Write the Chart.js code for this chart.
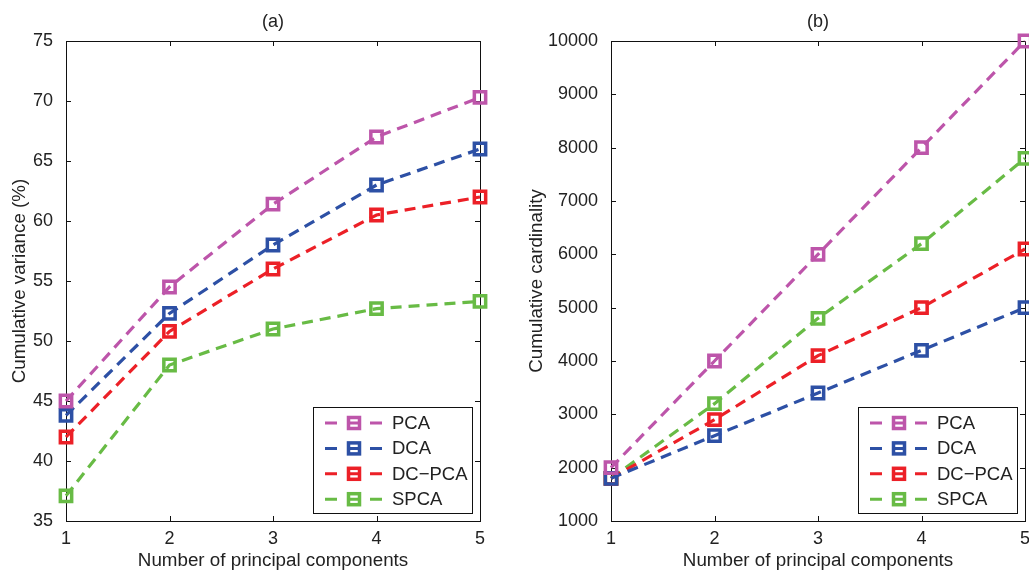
<!DOCTYPE html>
<html>
<head>
<meta charset="utf-8">
<script src="https://cdn.jsdelivr.net/npm/chart.js@4.4.1/dist/chart.umd.min.js"></script>
<style>
    html, body { margin: 0; padding: 0; background: #fff; overflow: hidden; }
    body { width: 1029px; height: 571px; position: relative; }
    .panel { position: absolute; top: 0; height: 571px; }
    #panelA { left: 0; width: 515px; }
    #panelB { left: 515px; width: 600px; }
</style>
</head>
<body>
<div class="panel" id="panelA"><canvas id="chartA"></canvas></div>
<div class="panel" id="panelB"><canvas id="chartB"></canvas></div>
<script>
// Data
const components = [1, 2, 3, 4, 5];
const seriesNames = ['PCA', 'DCA', 'DC\u2212PCA', 'SPCA'];
const seriesColors = ['#bd55aa', '#2d50a5', '#ec2027', '#68bb45'];

// (a) cumulative variance (%)
const varPCA = [45.0, 54.5, 61.4, 67.0, 70.3];
const varDCA = [43.8, 52.3, 58.0, 63.0, 66.0];
const varDCPCA = [42.0, 50.8, 56.0, 60.5, 62.0];
const varSPCA = [37.1, 48.0, 51.0, 52.7, 53.3];

// (b) cumulative cardinality
const cardPCA = [2000, 4000, 6000, 8000, 10000];
const cardDCA = [1800, 2600, 3400, 4200, 5000];
const cardDCPCA = [1800, 2900, 4100, 5000, 6100];
const cardSPCA = [1800, 3200, 4800, 6200, 7800];

const FONT = "'Liberation Sans', Arial, Helvetica, sans-serif";
const FSIZE = 18;
const TSIZE = 18.8;
const TEXT = '#222';

// Box, inward ticks and the boxed legend, MATLAB style
const matlabFrame = {
    id: 'matlabFrame',
    beforeDatasetsDraw(chart) {
        const { ctx, chartArea: a, scales: { x, y } } = chart;
        ctx.save();
        ctx.strokeStyle = '#111';
        ctx.lineWidth = 1;
        ctx.strokeRect(a.left + 0.5, a.top + 0.5, a.right - a.left, a.bottom - a.top);
        ctx.beginPath();
        x.ticks.forEach(t => {
            const px = Math.round(x.getPixelForValue(t.value)) + 0.5;
            ctx.moveTo(px, a.bottom); ctx.lineTo(px, a.bottom - 5);
            ctx.moveTo(px, a.top); ctx.lineTo(px, a.top + 5);
        });
        y.ticks.forEach(t => {
            const py = Math.round(y.getPixelForValue(t.value)) + 0.5;
            ctx.moveTo(a.left, py); ctx.lineTo(a.left + 5, py);
            ctx.moveTo(a.right, py); ctx.lineTo(a.right - 5, py);
        });
        ctx.stroke();
        ctx.restore();
    },
    afterDatasetsDraw(chart) {
        const { ctx, chartArea: a } = chart;
        const w = 159, h = 106;
        const left = a.right - 8 - w, top = a.bottom - 8 - h;
        ctx.save();
        ctx.fillStyle = '#fff';
        ctx.fillRect(left, top, w, h);
        ctx.strokeStyle = '#111';
        ctx.lineWidth = 1;
        ctx.strokeRect(left + 0.5, top + 0.5, w, h);
        ctx.font = '18.5px ' + FONT;
        ctx.textBaseline = 'middle';
        chart.data.datasets.forEach((ds, i) => {
            const cy = top + 16 + i * 25.4;
            ctx.strokeStyle = ds.borderColor;
            ctx.lineWidth = 3;
            ctx.beginPath();
            ctx.moveTo(left + 12, cy); ctx.lineTo(left + 24, cy);
            ctx.moveTo(left + 36, cy); ctx.lineTo(left + 46, cy);
            ctx.moveTo(left + 57, cy); ctx.lineTo(left + 69, cy);
            ctx.stroke();
            ctx.lineWidth = 3.5;
            ctx.strokeRect(left + 35.5, cy - 5.5, 11, 11);
            ctx.fillStyle = TEXT;
            ctx.fillText(ds.label, left + 79, cy + 1);
        });
        ctx.restore();
    }
};

function makeDatasets(values) {
    return values.map((vals, i) => ({
        label: seriesNames[i],
        data: components.map((c, j) => ({ x: c, y: vals[j] })),
        borderColor: seriesColors[i],
        backgroundColor: 'rgba(0,0,0,0)',
        borderWidth: 3.2,
        borderDash: [11, 7],
        pointStyle: 'rect',
        pointRadius: 8,
        pointBorderWidth: 3.5,
        pointHoverRadius: 8,
        clip: false,
        tension: 0
    }));
}

function makeChart(id, panelTitle, values, yTitle, yMin, yMax, yStep, yWidth, yTitlePad, rightPad) {
    return new Chart(document.getElementById(id), {
        type: 'line',
        data: { datasets: makeDatasets(values) },
        options: {
            responsive: true,
            maintainAspectRatio: false,
            devicePixelRatio: 1,
            animation: false,
            events: [],
            layout: { padding: { top: 41, right: rightPad, bottom: 0, left: 0 } },
            plugins: {
                legend: { display: false },
                tooltip: { enabled: false },
                title: { display: false }
            },
            scales: {
                x: {
                    type: 'linear',
                    min: 1, max: 5,
                    grid: { display: false },
                    border: { display: false },
                    ticks: { stepSize: 1, padding: -1, color: TEXT, font: { family: FONT, size: FSIZE },
                             callback: v => String(v) },
                    title: { display: true, text: 'Number of principal components', color: TEXT,
                             font: { family: FONT, size: TSIZE }, padding: { top: 0, bottom: -1 } },
                    afterFit(scale) { scale.height = 50; }
                },
                y: {
                    min: yMin, max: yMax,
                    grid: { display: false },
                    border: { display: false },
                    ticks: { stepSize: yStep, padding: 5, color: TEXT, font: { family: FONT, size: FSIZE },
                             callback: v => String(v) },
                    title: { display: true, text: yTitle, color: TEXT,
                             font: { family: FONT, size: TSIZE }, padding: { top: yTitlePad, bottom: 0 } },
                    afterFit(scale) { scale.width = yWidth; }
                }
            }
        },
        plugins: [matlabFrame, {
            id: 'panelTitle',
            afterDraw(chart) {
                const { ctx, chartArea: a } = chart;
                ctx.save();
                ctx.font = FSIZE + 'px ' + FONT;
                ctx.fillStyle = TEXT;
                ctx.textAlign = 'center';
                ctx.textBaseline = 'middle';
                ctx.fillText(panelTitle, (a.left + a.right) / 2, 22);
                ctx.restore();
            }
        }]
    });
}

makeChart('chartA', '(a)', [varPCA, varDCA, varDCPCA, varSPCA], 'Cumulative variance (%)', 35, 75, 5, 66, 9, 35);
makeChart('chartB', '(b)', [cardPCA, cardDCA, cardDCPCA, cardSPCA], 'Cumulative cardinality', 1000, 10000, 1000, 96, 11, 90);
</script>
</body>
</html>
